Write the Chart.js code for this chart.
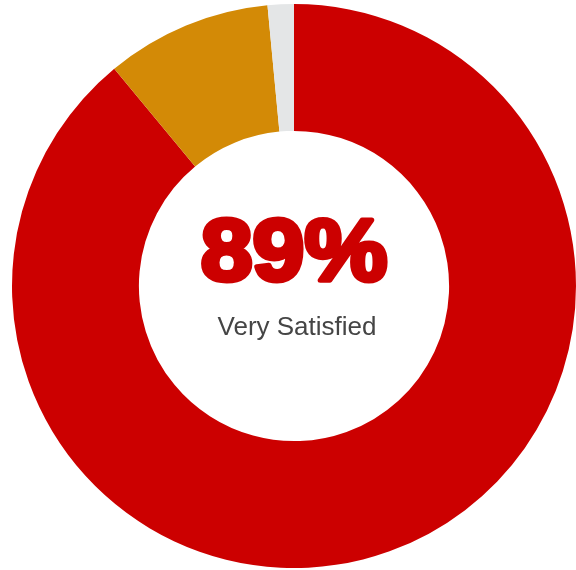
<!DOCTYPE html>
<html>
<head>
<meta charset="utf-8">
<script src="https://cdn.jsdelivr.net/npm/chart.js@4"></script>
<style>
  html, body { margin: 0; padding: 0; background: #ffffff; }
  #wrap { width: 576px; height: 570px; }
</style>
</head>
<body>
<div id="wrap"><canvas id="satisfaction" width="576" height="570"></canvas></div>
<script>
// ================= DATA =================
const labels = ["Very Satisfied", "Satisfied", "Other"];
const shares = [89, 9.5, 1.5];
const colors = ["#cc0000", "#d38a06", "#e4e6e7"];

const headline = shares[0] + "%";
const caption = labels[0];

// ================= CENTER TEXT =================
const centerText = {
    id: "centerText",
    afterDatasetsDraw(chart){
        const arc = chart.getDatasetMeta(0).data[0];
        if (!arc) return;
        const ctx = chart.ctx;
        const x = arc.x;
        const y = arc.y;

        ctx.save();
        ctx.textAlign = "center";
        ctx.textBaseline = "alphabetic";

        // big heavy percentage
        ctx.save();
        ctx.translate(x, y - 6);
        ctx.scale(1.06, 1);
        ctx.font = "bold 88px 'Liberation Sans', Arial, sans-serif";
        ctx.fillStyle = "#cc0000";
        ctx.strokeStyle = "#cc0000";
        ctx.lineWidth = 5;
        ctx.lineJoin = "round";
        ctx.strokeText(headline, 0, 0);
        ctx.fillText(headline, 0, 0);
        ctx.restore();

        // caption underneath
        ctx.font = "26px 'Liberation Sans', Arial, sans-serif";
        ctx.fillStyle = "#454545";
        ctx.fillText(caption, x + 3, y + 49);
        ctx.restore();
    }
};

// ================= CHART =================
const chart = new Chart(document.getElementById("satisfaction"), {
    type: "doughnut",
    data: {
        labels: labels,
        datasets: [{
            data: shares,
            backgroundColor: colors,
            borderWidth: 0,
            hoverOffset: 0
        }]
    },
    options: {
        responsive: false,
        animation: false,
        cutout: "55%",
        layout: {
            padding: { left: 12, top: 2, right: 0, bottom: 0 }
        },
        plugins: {
            legend: { display: false },
            tooltip: { enabled: false }
        }
    },
    plugins: [centerText]
});
</script>
</body>
</html>
